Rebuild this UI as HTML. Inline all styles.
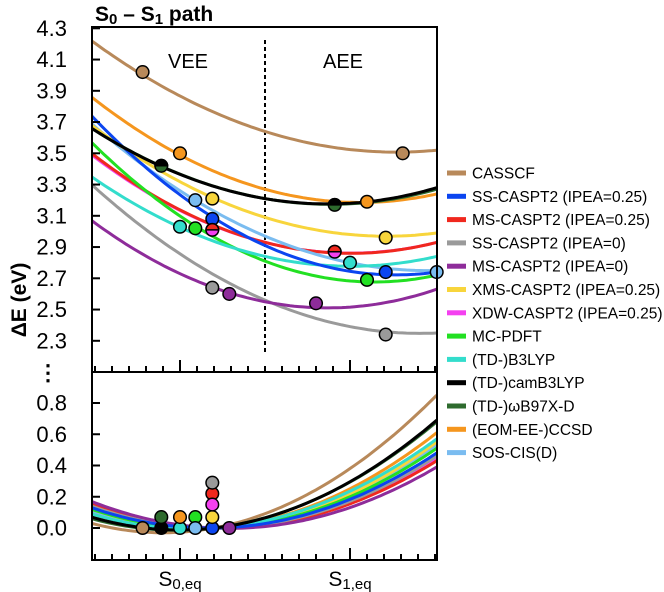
<!DOCTYPE html>
<html><head><meta charset="utf-8"><style>
html,body{margin:0;padding:0;background:#fff;}
svg{display:block;font-family:"Liberation Sans",sans-serif;}
</style></head><body>
<svg id="chart" width="664" height="592" viewBox="0 0 664 592" xmlns="http://www.w3.org/2000/svg">
<defs>
<clipPath id="clipTop"><rect x="92" y="27" width="345" height="345"/></clipPath>
<clipPath id="clipBot"><rect x="92" y="372" width="345" height="188"/></clipPath>
</defs>
<text x="95" y="21" font-size="21" font-weight="bold">S<tspan font-size="15" dy="3">0</tspan><tspan dy="-3"> – S</tspan><tspan font-size="15" dy="3">1</tspan><tspan dy="-3"> path</tspan></text>
<text transform="translate(26,300) rotate(-90)" text-anchor="middle" font-size="21" font-weight="bold">ΔE  (eV)</text>
<text x="48" y="380" text-anchor="middle" font-size="22" font-weight="bold">⋮</text>
<text x="188" y="68" text-anchor="middle" font-size="20">VEE</text>
<text x="343" y="68" text-anchor="middle" font-size="20">AEE</text>
<line x1="265" y1="40" x2="265" y2="352" stroke="#000" stroke-width="2" stroke-dasharray="4,3"/>
<g id="plot"></g>
<rect x="92" y="27" width="345" height="345" fill="none" stroke="#000" stroke-width="2"/>
<rect x="92" y="372" width="345" height="188" fill="none" stroke="#000" stroke-width="2"/>
<g id="axes"></g>
<g id="legend"></g>
</svg>
<script>
const names=["CASSCF","SS-CASPT2 (IPEA=0.25)","MS-CASPT2 (IPEA=0.25)","SS-CASPT2 (IPEA=0)","MS-CASPT2 (IPEA=0)","XMS-CASPT2 (IPEA=0.25)","XDW-CASPT2 (IPEA=0.25)","MC-PDFT","(TD-)B3LYP","(TD-)camB3LYP","(TD-)ωB97X-D","(EOM-EE-)CCSD","SOS-CIS(D)"];
const colors=["#b8895a","#0b45f0","#f0281e","#9a9a9a","#8e2c9a","#f8d53c","#f440f0","#22e022","#33ddcc","#000000","#2e6b2e","#f5961e","#7abcf0"];
const topLeft=[4.22,3.74,3.50,3.30,3.07,3.68,3.49,3.57,3.35,3.66,3.66,3.86,3.69];
const topMid=[3.64,2.91,2.93,2.56,2.55,3.09,2.93,2.81,2.84,3.21,3.21,3.27,2.97];
const topRight=[3.52,2.74,2.93,2.35,2.63,2.99,2.93,2.72,2.84,3.28,3.27,3.24,2.75];
const botLeft=[0.03,0.13,0.15,0.14,0.17,0.12,0.16,0.12,0.09,0.07,0.06,0.10,0.11];
const botRight=[0.85,0.48,0.43,0.46,0.39,0.55,0.45,0.51,0.57,0.69,0.68,0.61,0.53];
const veeX=[-0.22,0.19,0.19,0.19,0.29,0.19,0.19,0.09,0,-0.11,-0.11,0,0.09];
const veeE=[4.02,3.08,3.01,2.64,2.60,3.21,3.01,3.02,3.03,3.42,3.42,3.50,3.20];
const aeeX=[1.31,1.21,0.91,1.21,0.80,1.21,0.91,1.10,1.0,0.91,0.91,1.10,1.51];
const aeeE=[3.50,2.74,2.87,2.34,2.54,2.96,2.87,2.69,2.80,3.17,3.17,3.19,2.74];
const botX=[-0.22,0.19,0.19,0.19,0.29,0.19,0.19,0.09,0,-0.11,-0.11,0,0.09];
const botE=[0,0,0.22,0.29,0,0.07,0.15,0.07,0,0,0.07,0.07,0];
const halfTop=[false,false,true,false,false,false,false,false,false,true,false,false,false];
const topTicks=["4.3","4.1","3.9","3.7","3.5","3.3","3.1","2.9","2.7","2.5","2.3"];
const botTicks=["0.8","0.6","0.4","0.2","0.0"];
const drawOrder=[0,11,6,2,3,4,12,5,7,8,1,10,9];

const NS="http://www.w3.org/2000/svg";
const xs=v=>180+170*v;
const yT=v=>28.3+(4.3-v)*156.25;
const yB=v=>528-v*156.25;
const xL=-0.52,xM=0.5,xR=1.51,bM=0.2;
function quad(x0,y0,x1,y1,x2,y2,x){
  return y0*(x-x1)*(x-x2)/((x0-x1)*(x0-x2))+y1*(x-x0)*(x-x2)/((x1-x0)*(x1-x2))+y2*(x-x0)*(x-x1)/((x2-x0)*(x2-x1));
}
const plot=document.getElementById('plot');
const gTop=document.createElementNS(NS,'g');gTop.setAttribute('clip-path','url(#clipTop)');plot.appendChild(gTop);
const gBot=document.createElementNS(NS,'g');gBot.setAttribute('clip-path','url(#clipBot)');plot.appendChild(gBot);
function mk(tag,attrs,parent){const e=document.createElementNS(NS,tag);for(const k in attrs)e.setAttribute(k,attrs[k]);parent.appendChild(e);return e;}
drawOrder.forEach(i=>{
  let dT="",dB="";
  for(let k=0;k<=80;k++){
    const x=xL+(xR-xL)*k/80;
    const vt=quad(xL,topLeft[i],xM,topMid[i],xR,topRight[i],x);
    const vb=quad(xL,botLeft[i],bM,0,xR,botRight[i],x);
    dT+=(k?"L":"M")+xs(x).toFixed(1)+","+yT(vt).toFixed(1);
    dB+=(k?"L":"M")+xs(x).toFixed(1)+","+yB(vb).toFixed(1);
  }
  const p1=mk('path',{d:dT,fill:'none',stroke:colors[i],'stroke-width':3},gTop);
  
  
  const p2=mk('path',{d:dB,fill:'none',stroke:colors[i],'stroke-width':3},gBot);
  
  
});
function marker(cx,cy,i,parent){
  let c;
  if(halfTop[i]){
    const r=6.3;
    c=mk('path',{d:`M${cx-r},${cy}A${r},${r} 0 0 1 ${cx+r},${cy}Z`,fill:colors[i],stroke:'#000','stroke-width':1.5},parent);
  } else {
    c=mk('circle',{cx:cx,cy:cy,r:6.3,fill:colors[i],stroke:'#000','stroke-width':1.5},parent);
  }
  
  
}
const order2=[...names.keys()].filter(i=>!halfTop[i]).concat([...names.keys()].filter(i=>halfTop[i]));
order2.forEach(i=>{
  marker(xs(veeX[i]),yT(veeE[i]),i,plot);
  marker(xs(aeeX[i]),yT(aeeE[i]),i,plot);
});
[...names.keys()].forEach(i=>{
  const c=mk('circle',{cx:xs(botX[i]),cy:yB(botE[i]),r:6.3,fill:colors[i],stroke:'#000','stroke-width':1.5},plot);
  
  
});
const ax=document.getElementById('axes');
topTicks.forEach(t=>{
  const y=yT(parseFloat(t));
  const l=mk('line',{x1:92,x2:100,y1:y,y2:y,stroke:'#000','stroke-width':2},ax);
  
  
  const tx=mk('text',{x:67,y:y+7.5,'text-anchor':'end','font-size':22},ax);
  tx.textContent=t;
  
  
});
botTicks.forEach(t=>{
  const y=yB(parseFloat(t));
  const l=mk('line',{x1:92,x2:100,y1:y,y2:y,stroke:'#000','stroke-width':2},ax);
  
  
  const tx=mk('text',{x:67,y:y+7.5,'text-anchor':'end','font-size':22},ax);
  tx.textContent=t;
  
  
});
for(let k=-5;k<=15;k++){
  const x=xs(k/10);
  const len=(k%10===0)?12:6;
  [372,560].forEach(yb=>{
    const l=mk('line',{x1:x,x2:x,y1:yb,y2:yb-len,stroke:'#000','stroke-width':2},ax);
    
    
  });
}
[["S","0,eq",0],["S","1,eq",1]].forEach(([a,b,v])=>{
  const tx=mk('text',{x:xs(v),y:586,'text-anchor':'middle','font-size':21},ax);
  tx.innerHTML=a+'<tspan font-size="15" dy="3">'+b+'</tspan>';
  
  
});
const lg=document.getElementById('legend');
names.forEach((n,i)=>{
  const y=173+i*23.3;
  const g=mk('g',{},lg);
  
  
  mk('rect',{x:447,y:y-2.5,width:19,height:5,fill:colors[i]},g);
  const t=mk('text',{x:472,y:y+5.5,'font-size':15.5},g);
  t.textContent=n;
});
</script>
</body></html>
